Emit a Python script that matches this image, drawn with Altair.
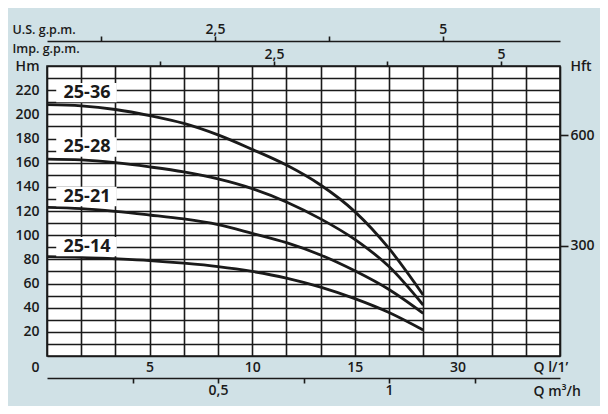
import altair as alt
import pandas as pd

# ---- data ----
q_lmin = [0, 1.667, 3.333, 5.0, 6.667, 8.333, 10.0, 11.667, 13.333, 15.0, 16.667, 18.333]
pumps = ["25-36", "25-28", "25-21", "25-14"]
h_25_36 = [208, 207, 204, 199, 192.5, 183, 171, 158, 141.5, 119.5, 89, 50.5]
h_25_28 = [163, 162.3, 160, 156.5, 152.3, 146.5, 138.5, 127.5, 113.5, 96.5, 74, 42.2]
h_25_21 = [123, 122, 119.7, 116.7, 113.4, 108.7, 101.5, 93.8, 83.6, 70.5, 55, 35.3]
h_25_14 = [82.2, 81.7, 80.5, 79, 76.8, 74, 70, 64.5, 57, 47.5, 36, 21.5]
heads = [h_25_36, h_25_28, h_25_21, h_25_14]

label_q = [1.95, 1.95, 1.95, 1.95]
label_h = [218, 173, 132, 90.5]
box_q0 = [0.45, 0.45, 0.45, 0.45]
box_q1 = [3.4, 3.4, 3.4, 3.4]
box_half = 8

# axes
q_max = 25
n_cols = 15
h_max = 240
x_label_values = [5, 10, 15, 20]
x_label_texts = ["5", "10", "15", "30"]
m3h_ticks = [0.25, 0.5, 0.75, 1.0, 1.25]
m3h_label_values = [0.5, 1.0]
m3h_label_texts = ["0,5", "1"]
imp_ticks = [1.25, 2.5, 3.75, 5.0]
imp_label_values = [2.5, 5.0]
imp_label_texts = ["2,5", "5"]
us_ticks = [1.25, 2.5, 3.75, 5.0]
us_label_values = [2.5, 5.0]
us_label_texts = ["2,5", "5"]
ft_ticks = [300, 600]

INK = "#1a1a1a"
FONT = "Open Sans"


def label_expr(values, texts, default="''"):
    parts = [f"abs(datum.value - {v}) < 0.01 ? '{t}'" for v, t in zip(values, texts)]
    return " : ".join(parts) + f" : {default}"


curves = pd.DataFrame(
    [{"pump": p, "q": q, "h": h} for p, hs in zip(pumps, heads) for q, h in zip(q_lmin, hs)]
)
labels = pd.DataFrame({
    "pump": pumps, "q": label_q, "h": label_h,
    "q0": box_q0, "q1": box_q1,
    "h0": [h - box_half for h in label_h], "h1": [h + box_half for h in label_h],
})

x_grid = [q_max * k / n_cols for k in range(n_cols + 1)]
y_grid = list(range(0, h_max + 1, 10))

x_scale = alt.Scale(domain=[0, q_max], nice=False, zero=False)
y_scale = alt.Scale(domain=[0, h_max], nice=False, zero=False)

x_main = alt.X(
    "q:Q", scale=x_scale,
    axis=alt.Axis(
        orient="bottom", values=x_grid, grid=True, domain=False, ticks=False,
        labelExpr=label_expr(x_label_values, x_label_texts),
        labelPadding=11, labelBaseline="middle", labelFlush=False, labelOverlap=False,
        title="Q l/1’", titleX=486, titleY=11, titleAlign="left", titleBaseline="middle",
        titleAnchor="start",
    ),
)
y_main = alt.Y(
    "h:Q", scale=y_scale,
    axis=alt.Axis(
        orient="left", values=y_grid, grid=True, domain=False, ticks=False,
        labelExpr="datum.value == 240 ? 'Hm' : datum.value % 20 == 0 ? datum.label : ''",
        labelPadding=8, labelFlush=False, labelOverlap=False, labelBaseline="middle",
        labelOffset={"condition": {"test": "datum.value == 0", "value": 11}, "value": 0},
        title=None,
    ),
)

lines = alt.Chart(curves).mark_line(
    interpolate="monotone", strokeWidth=2.8, color=INK, strokeCap="butt"
).encode(x=x_main, y=y_main, detail="pump:N")

boxes = alt.Chart(labels).mark_rect(color="white").encode(
    x=alt.X("q0:Q", scale=x_scale, axis=None), x2="q1",
    y=alt.Y("h0:Q", scale=y_scale, axis=None), y2="h1",
)
texts = alt.Chart(labels).mark_text(
    font=FONT, fontSize=18, fontWeight="bold", color=INK, align="center", baseline="middle"
).encode(
    x=alt.X("q:Q", scale=x_scale, axis=None),
    y=alt.Y("h:Q", scale=y_scale, axis=None),
    text="pump:N",
)

m3h = alt.Chart(pd.DataFrame({"v": m3h_ticks})).mark_point(opacity=0).encode(
    x=alt.X("v:Q", scale=alt.Scale(domain=[0, q_max * 60 / 1000], nice=False, zero=False),
            axis=alt.Axis(orient="bottom", offset=22, values=m3h_ticks, grid=False,
                          domain=True, ticks=True, tickSize=5,
                          labelExpr=label_expr(m3h_label_values, m3h_label_texts),
                          labelPadding=7, labelBaseline="middle", labelFlush=False,
                          labelOverlap=False,
                          title="Q m³/h", titleX=486, titleY=13, titleAlign="left",
                          titleBaseline="middle", titleAnchor="start"))
)

imp = alt.Chart(pd.DataFrame({"v": imp_ticks})).mark_point(opacity=0).encode(
    x=alt.X("v:Q", scale=alt.Scale(domain=[0, 5.65], nice=False, zero=False),
            axis=alt.Axis(orient="top", offset=0, values=imp_ticks, grid=False,
                          domain=False, ticks=True, tickSize=5,
                          labelExpr=label_expr(imp_label_values, imp_label_texts),
                          labelPadding=7, labelBaseline="middle", labelFlush=False,
                          labelOverlap=False,
                          title="Imp. g.p.m.", titleX=-35, titleY=-18, titleAlign="left",
                          titleBaseline="middle", titleAnchor="start", titleFontSize=12.5))
)

us = alt.Chart(pd.DataFrame({"v": us_ticks})).mark_point(opacity=0).encode(
    x=alt.X("v:Q", scale=alt.Scale(domain=[0.656, 6.286], nice=False, zero=False),
            axis=alt.Axis(orient="top", offset=25, values=us_ticks, grid=False,
                          domain=True, ticks=True, tickSize=5,
                          labelExpr=label_expr(us_label_values, us_label_texts),
                          labelPadding=7, labelBaseline="middle", labelFlush=False,
                          labelOverlap=False,
                          title="U.S. g.p.m.", titleX=-35, titleY=-12, titleAlign="left",
                          titleBaseline="middle", titleAnchor="start", titleFontSize=12.5))
)

ft_top = h_max / 0.3048
ft = alt.Chart(pd.DataFrame({"v": ft_ticks})).mark_point(opacity=0).encode(
    y=alt.Y("v:Q", scale=alt.Scale(domain=[0, ft_top], nice=False),
            axis=alt.Axis(orient="right", values=ft_ticks + [ft_top], grid=False,
                          domain=False, ticks=True, tickSize=8,
                          tickOpacity={"condition": {"test": "datum.value > 700", "value": 0}, "value": 1},
                          labelExpr="datum.value > 700 ? 'Hft' : datum.label",
                          labelPadding=2, labelBaseline="middle", labelFlush=False,
                          labelOverlap=False, title=None))
)

chart = alt.layer(lines, boxes, texts, m3h, imp, us, ft).resolve_scale(
    x="independent", y="independent"
).properties(
    width=513, height=290,
    autosize=alt.AutoSizeParams(type="none"),
    padding={"left": 39, "top": 58, "right": 40, "bottom": 50},
    background="#d0e1e6",
).configure_view(
    fill="white", stroke=INK, strokeWidth=1.6
).configure_axis(
    labelFont=FONT, labelFontSize=14, labelFontWeight=600, labelColor=INK,
    titleFont=FONT, titleFontSize=14, titleFontWeight=600, titleColor=INK,
    domainColor=INK, domainWidth=1.6, tickColor=INK, tickWidth=1.6,
    gridColor=INK, gridWidth=1.6, gridOpacity=1,
)

chart.save("out.html", embed_options={"renderer": "svg", "actions": False})
